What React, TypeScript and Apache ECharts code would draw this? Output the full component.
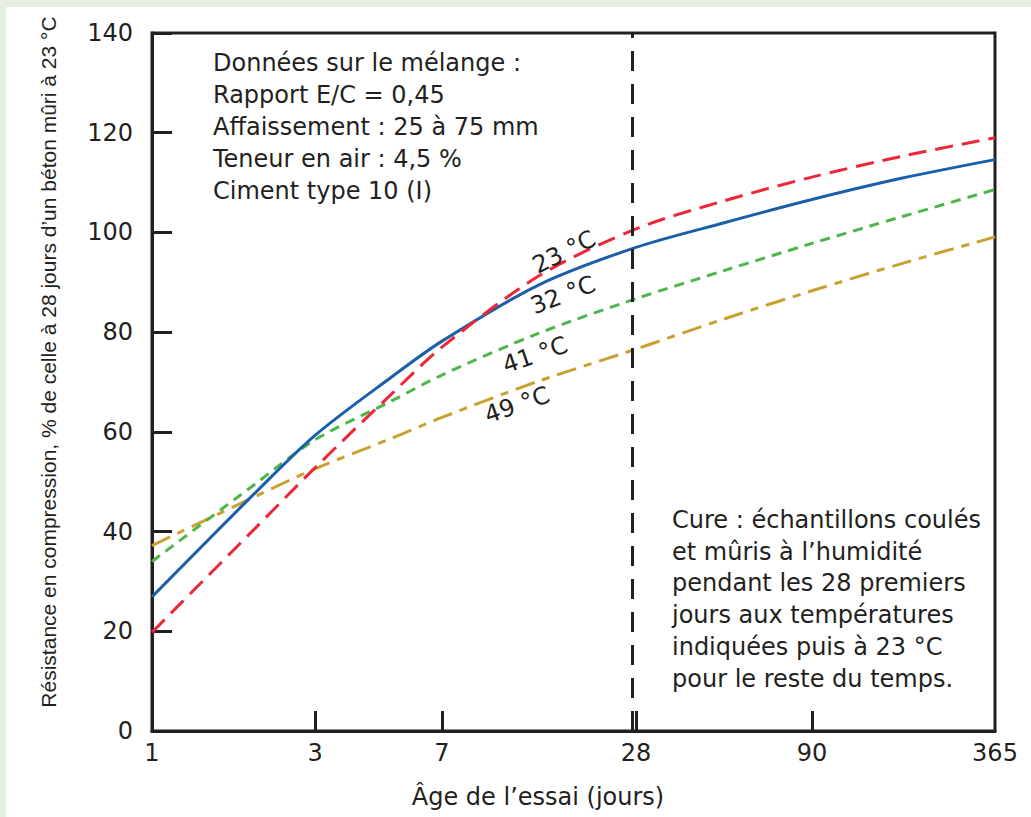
import { useEffect, useRef } from 'react';
import * as echarts from 'echarts';

// ---- data ----
const ageTicks = [1, 3, 7, 28, 90, 365];
const ageTickLabels = ['1', '3', '7', '28', '90', '365'];
// relative drawn positions (0..1) of the labelled ages along the horizontal axis
const ageTickPos = [0, 0.1934, 0.344, 0.5741, 0.7829, 1];

const sampleAges = [1, 2, 3, 5, 7, 14, 28, 50, 90, 180, 365];
const temp23 = [19.8, 40.6, 52.8, 67.6, 77, 91.3, 100.7, 106.3, 111.1, 115.3, 119];
const temp32 = [26.9, 47.7, 59.3, 71.0, 78.2, 89.5, 97.0, 101.9, 106.6, 110.9, 114.6];
const temp41 = [34, 49.5, 58.4, 66.2, 71.4, 79.8, 86.7, 92.3, 97.8, 103.2, 108.6];
const temp49 = [37.2, 47, 52.6, 58.7, 62.9, 70.2, 76.6, 82.6, 88.3, 93.8, 99.1];

const seriesNames = ['23 °C', '32 °C', '41 °C', '49 °C'];
const cureAge = 28;

const mixLines = [
  'Données sur le mélange :',
  'Rapport E/C = 0,45',
  'Affaissement : 25 à 75 mm',
  'Teneur en air : 4,5 %',
  'Ciment type 10 (I)',
];
const cureLines = [
  'Cure : échantillons coulés',
  'et mûris à l’humidité',
  'pendant les 28 premiers',
  'jours aux températures',
  'indiquées puis à 23 °C',
  'pour le reste du temps.',
];
const yTitle = 'Résistance en compression, % de celle à 28 jours d’un béton mûri à 23 °C';
const xTitle = 'Âge de l’essai (jours)';

// ---- scale helper: piecewise logarithmic between labelled ages ----
function ageToPos(day: number): number {
  for (let i = 0; i < ageTicks.length - 1; i++) {
    const a = ageTicks[i];
    const b = ageTicks[i + 1];
    if (day >= a && day <= b) {
      const f = (Math.log(day) - Math.log(a)) / (Math.log(b) - Math.log(a));
      return ageTickPos[i] + f * (ageTickPos[i + 1] - ageTickPos[i]);
    }
  }
  return day < ageTicks[0] ? 0 : 1;
}

const INK = '#231f20';
const FONT = 'DejaVu Sans';

export default function App() {
  const ref = useRef<HTMLDivElement>(null);

  useEffect(() => {
    if (!ref.current) return;
    const chart = echarts.init(ref.current, undefined, { renderer: 'svg' });

    const mk = (vals: number[]) => sampleAges.map((d, i) => [ageToPos(d), vals[i]]);

    const lineDefs = [
      { name: seriesNames[0], data: temp23, color: '#ee2637', type: [18, 9] as any },
      { name: seriesNames[1], data: temp32, color: '#1b5fa9', type: 'solid' as any },
      { name: seriesNames[2], data: temp41, color: '#4cb748', type: [10, 7] as any },
      { name: seriesNames[3], data: temp49, color: '#c9a130', type: [20, 8, 8, 8] as any },
    ];

    const series: any[] = lineDefs.map((s, idx) => ({
      type: 'line',
      name: s.name,
      data: mk(s.data),
      smooth: 0.3,
      showSymbol: false,
      symbol: 'none',
      lineStyle: { color: s.color, width: 3, type: s.type, cap: 'butt' },
      z: 3 + (3 - idx),
    }));

    series.push({
      type: 'line',
      name: 'cure',
      data: [],
      markLine: {
        silent: true,
        symbol: ['none', 'none'],
        label: { show: false },
        lineStyle: { color: INK, width: 3, type: [20, 13] },
        data: [{ xAxis: ageToPos(cureAge) }],
        z: 10,
      },
    });

    const labelDefs = [
      { text: seriesNames[0], x: 564, y: 252, rot: 26.5 },
      { text: seriesNames[1], x: 563, y: 295, rot: 21 },
      { text: seriesNames[2], x: 535, y: 355, rot: 19 },
      { text: seriesNames[3], x: 517, y: 405, rot: 19 },
    ];

    const graphic: any[] = [
      { type: 'rect', shape: { x: 0, y: 0, width: 1031, height: 7 }, style: { fill: '#e5efe2' }, z: 0 },
      { type: 'rect', shape: { x: 0, y: 0, width: 6, height: 817 }, style: { fill: '#e5efe2' }, z: 0 },
      ...labelDefs.map((l) => ({
        type: 'text',
        x: l.x,
        y: l.y,
        rotation: (l.rot * Math.PI) / 180,
        style: {
          text: l.text,
          fill: INK,
          font: `24px "${FONT}"`,
          align: 'center',
          verticalAlign: 'middle',
        },
        z: 20,
      })),
      ...mixLines.map((t, i) => ({
        type: 'text',
        x: 213,
        y: 63 + i * 32,
        style: { text: t, fill: INK, font: `24px "${FONT}"`, align: 'left', verticalAlign: 'middle' },
        z: 20,
      })),
      ...cureLines.map((t, i) => ({
        type: 'text',
        x: 672,
        y: 520 + i * 31.7,
        style: { text: t, fill: INK, font: `24px "${FONT}"`, align: 'left', verticalAlign: 'middle' },
        z: 20,
      })),
      {
        type: 'text',
        x: 48,
        y: 362,
        rotation: Math.PI / 2,
        style: { text: yTitle, fill: INK, font: '21px "Liberation Sans"', align: 'center', verticalAlign: 'middle' },
        z: 20,
      },
      {
        type: 'text',
        x: 538,
        y: 797,
        style: { text: xTitle, fill: INK, font: `24px "${FONT}"`, align: 'center', verticalAlign: 'middle' },
        z: 20,
      },
    ];

    chart.setOption({
      animation: false,
      backgroundColor: '#ffffff',
      grid: {
        left: 152,
        right: 36,
        top: 33,
        bottom: 86,
        show: true,
        borderColor: INK,
        borderWidth: 3,
        backgroundColor: 'transparent',
      },
      xAxis: {
        type: 'value',
        min: 0,
        max: 1,
        axisLine: { show: true, lineStyle: { color: INK, width: 3 } },
        axisTick: {
          show: true,
          inside: true,
          length: 20,
          customValues: ageTickPos.slice(1, -1),
          lineStyle: { color: INK, width: 3 },
        },
        axisLabel: {
          show: true,
          customValues: ageTickPos,
          margin: 10,
          color: INK,
          fontFamily: FONT,
          fontSize: 24,
          formatter: (v: number) => {
            let best = 0;
            for (let i = 1; i < ageTickPos.length; i++) {
              if (Math.abs(ageTickPos[i] - v) < Math.abs(ageTickPos[best] - v)) best = i;
            }
            return ageTickLabels[best];
          },
        },
        splitLine: { show: false },
      },
      yAxis: {
        type: 'value',
        min: 0,
        max: 140,
        interval: 20,
        axisLine: { show: true, lineStyle: { color: INK, width: 3 } },
        axisTick: { show: true, inside: true, length: 20, lineStyle: { color: INK, width: 3 } },
        axisLabel: { color: INK, fontFamily: FONT, fontSize: 24, margin: 19 },
        splitLine: { show: false },
      },
      series,
      graphic,
    });

    return () => chart.dispose();
  }, []);

  return (
    <div
      ref={ref}
      style={{ position: 'absolute', left: 0, top: 0, width: 1031, height: 817 }}
    />
  );
}
